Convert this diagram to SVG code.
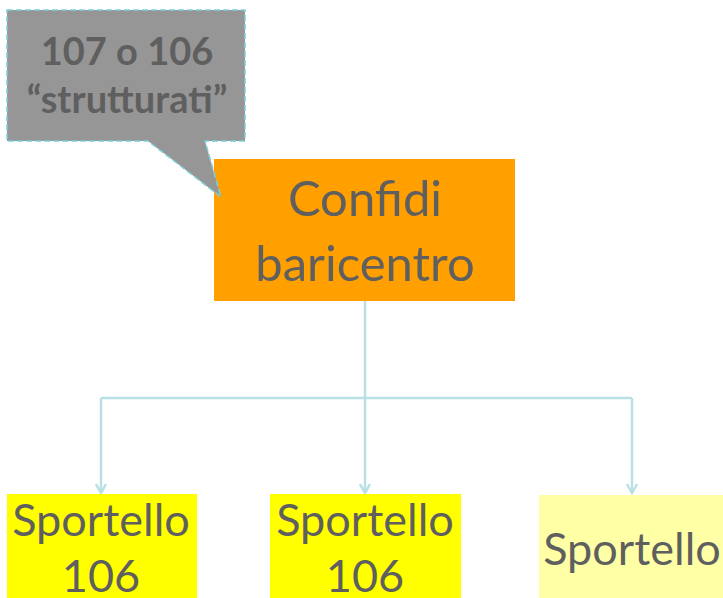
<svg xmlns="http://www.w3.org/2000/svg" width="723" height="598" viewBox="0 0 723 598">
<defs>
<style>
.t{font-family:Lato,"Open Sans","DejaVu Sans",sans-serif;fill:#5f5f5f;text-anchor:middle}
.conn{fill:none;stroke:#b9e0e5;stroke-width:2.5}
</style>
<marker id="arr" viewBox="0 0 12 12" refX="10" refY="6" markerWidth="12" markerHeight="12" markerUnits="userSpaceOnUse" orient="auto">
<path d="M1,1 L10,6 L1,11" fill="none" stroke="#b9e0e5" stroke-width="2.5"/>
</marker>
</defs>
<rect width="723" height="598" fill="#ffffff"/>
<g id="confidi">
<rect x="214" y="159" width="301" height="142" fill="#ff9f00"/>
<text class="t" x="365" y="216" font-size="49">Confidi</text>
<text class="t" x="365" y="281" font-size="49">baricentro</text>
</g>
<g id="callout">
<path d="M7,10 H245 V141 H205 L221,197 L148,141 H7 Z" fill="#969696" stroke="#7fd0d6" stroke-width="1.5" stroke-dasharray="6,3"/>
<text class="t" x="127" y="65" font-size="38" font-weight="bold">107 o 106</text>
<text class="t" x="127" y="113" font-size="38" font-weight="bold">“strutturati”</text>
</g>
<g id="connectors">
<path class="conn" d="M365,301 V398"/>
<path class="conn" d="M101,398 H632"/>
<path class="conn" d="M101,398 V493" marker-end="url(#arr)"/>
<path class="conn" d="M365,398 V493" marker-end="url(#arr)"/>
<path class="conn" d="M632,398 V493" marker-end="url(#arr)"/>
</g>
<g id="sportello1">
<rect x="7" y="494" width="190" height="104" fill="#ffff00"/>
<text class="t" x="101" y="536" font-size="45">Sportello</text>
<text class="t" x="101" y="592" font-size="45">106</text>
</g>
<g id="sportello2">
<rect x="270" y="494" width="191" height="104" fill="#ffff00"/>
<text class="t" x="365" y="536" font-size="45">Sportello</text>
<text class="t" x="365" y="592" font-size="45">106</text>
</g>
<g id="sportello3">
<rect x="539" y="495" width="184" height="103" fill="#ffffa6"/>
<text class="t" x="632" y="565" font-size="45">Sportello</text>
</g>
</svg>
